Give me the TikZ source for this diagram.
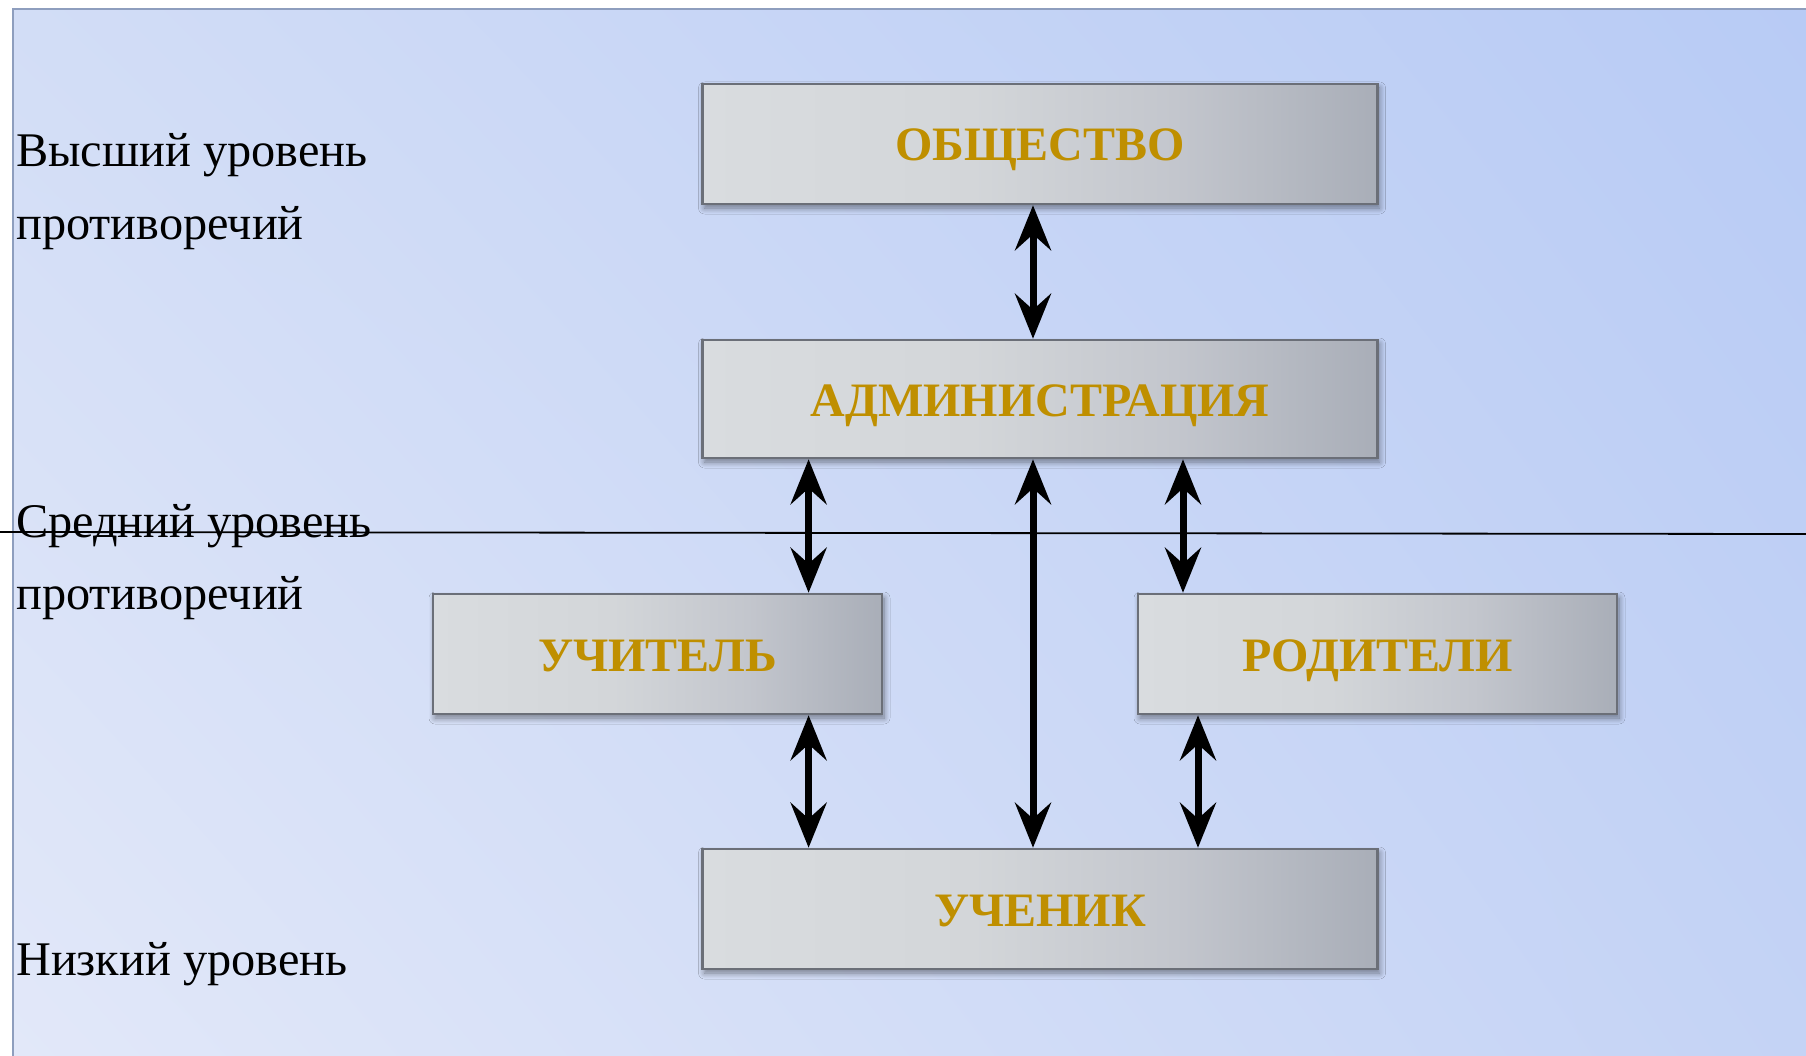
\documentclass[tikz,border=0pt]{standalone}
\usepackage{fontspec}
\setmainfont{Liberation Serif}
\usetikzlibrary{arrows.meta,shadows,shadows.blur,shadings,calc}
\definecolor{gold}{HTML}{BF8F00}
\definecolor{bxA}{HTML}{D9DCDF}
\definecolor{bxM}{HTML}{D3D6D9}
\definecolor{bxC}{HTML}{C3C6CD}
\definecolor{bxB}{HTML}{A9AEB8}
\definecolor{bxline}{HTML}{6B6F78}
\definecolor{bgUL}{HTML}{D2DDF6}
\definecolor{bgUR}{HTML}{B8CBF5}
\definecolor{bgLL}{HTML}{E2E8F9}
\definecolor{bgLR}{HTML}{C4D3F5}
\definecolor{frame}{HTML}{8E9EBE}
\pgfdeclarehorizontalshading{boxshade}{100bp}{color(0bp)=(bxA); color(25bp)=(bxA); color(45bp)=(bxM); color(60bp)=(bxC); color(75bp)=(bxB); color(100bp)=(bxB)}
\tikzset{
  box/.style={rectangle, draw=bxline, line width=2.5pt, shade, shading=boxshade,
    text=gold, font=\fontsize{48}{56}\selectfont\bfseries, inner sep=0pt,
    text height=34pt, text depth=0pt,
    blur shadow={shadow xshift=2pt, shadow yshift=-4pt, shadow blur radius=6pt, shadow opacity=45, shadow blur steps=8}},
  lbl/.style={anchor=base west, inner sep=0pt, font=\fontsize{48.3}{56}\selectfont, text=black},
  arr/.style={line width=7pt, {Stealth[length=45pt, width=36pt, inset=16pt]}-{Stealth[length=45pt, width=36pt, inset=16pt]}}
}
\begin{document}
\begin{tikzpicture}[x=1pt,y=-1pt]
\useasboundingbox (0,0) rectangle (1806,1056);
\fill[white] (0,0) rectangle (1806,1056);
\shade[upper left=bgUL, upper right=bgUR, lower left=bgLL, lower right=bgLR] (13,9) rectangle (1806,1056);
\draw[frame, line width=2pt] (13,1056) -- (13,9) -- (1806,9);

% level separator line
\coordinate (lineL) at (0,532);
\coordinate (lineR) at (1806,534);
\draw[black, line width=1.8pt] (lineL) -- (lineR);

% boxes
\node[box, minimum width=675pt, minimum height=120pt] (obsh) at (1040,144) {ОБЩЕСТВО};
\node[box, minimum width=675pt, minimum height=118pt] (adm) at (1040,399) {АДМИНИСТРАЦИЯ};
\node[box, minimum width=449pt, minimum height=120pt] (uchit) at (657.5,654) {УЧИТЕЛЬ};
\node[box, minimum width=479pt, minimum height=120pt] (rod) at (1377.5,654) {РОДИТЕЛИ};
\node[box, minimum width=675pt, minimum height=120pt] (uchen) at (1040,909) {УЧЕНИК};

% connector x positions
\coordinate (xa) at (808.6,0);
\coordinate (xm) at (1033,0);
\coordinate (xb) at (1183,0);
\coordinate (xc) at (1198,0);

\draw[arr] (obsh.south -| xm) -- (adm.north -| xm);
\draw[arr] (adm.south -| xa) -- (uchit.north -| xa);
\draw[arr] (adm.south -| xb) -- (rod.north -| xb);
\draw[arr] (adm.south -| xm) -- (uchen.north -| xm);
\draw[arr] (uchit.south -| xa) -- (uchen.north -| xa);
\draw[arr] (rod.south -| xc) -- (uchen.north -| xc);

% level labels
\node[lbl] (l1a) at (16,167) {Высший уровень};
\node[lbl] (l1b) at (16,240) {противоречий};
\node[lbl] (l2a) at (16,537) {Средний уровень};
\node[lbl] (l2b) at (16,609) {противоречий};
\node[lbl] (l3a) at (16,975) {Низкий уровень};
\end{tikzpicture}
\end{document}
